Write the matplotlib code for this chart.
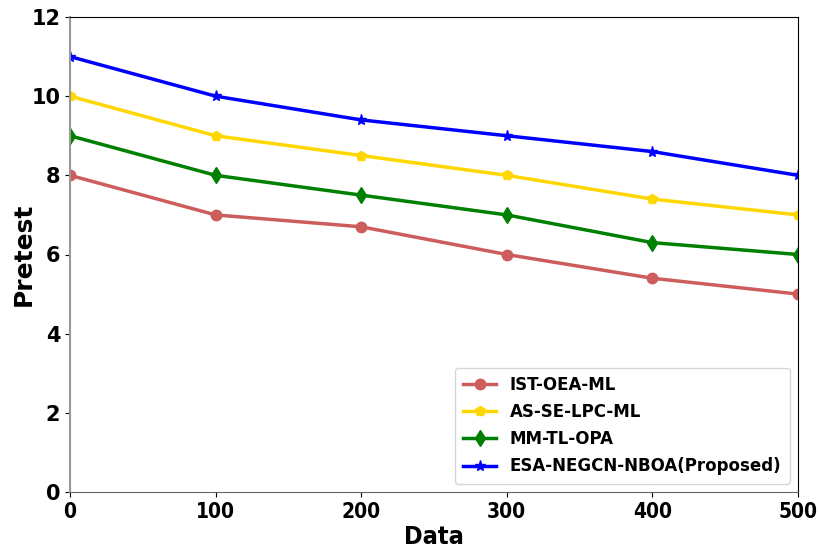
import matplotlib
matplotlib.use("Agg")
import matplotlib.pyplot as plt

data_sizes = [0, 100, 200, 300, 400, 500]
ist_oea_ml = [8, 7, 6.7, 6, 5.4, 5]
as_se_lpc_ml = [10, 9, 8.5, 8, 7.4, 7]
mm_tl_opa = [9, 8, 7.5, 7, 6.3, 6]
esa_negcn_nboa = [11, 10, 9.4, 9, 8.6, 8]

series = [
    ("IST-OEA-ML", ist_oea_ml, "indianred", "o", 7.5),
    ("AS-SE-LPC-ML", as_se_lpc_ml, "gold", "p", 7.5),
    ("MM-TL-OPA", mm_tl_opa, "green", "d", 8.5),
    ("ESA-NEGCN-NBOA(Proposed)", esa_negcn_nboa, "blue", "*", 8),
]

fig = plt.figure(figsize=(8.18, 5.51), dpi=100)
ax = fig.add_axes([70 / 818, 1 - 492 / 551, 728 / 818, 475 / 551])

for label, values, color, marker, msize in series:
    ax.plot(data_sizes, values, color=color, marker=marker, markersize=msize,
            linewidth=2.5, label=label)

ax.set_xlim(0, 500)
ax.set_ylim(0, 12)
ax.set_xticks(data_sizes)
ax.set_yticks([0, 2, 4, 6, 8, 10, 12])
for lbl in ax.get_xticklabels():
    lbl.set_fontweight("bold")
    lbl.set_fontsize(15)
    lbl.set_fontstretch("condensed")
for lbl in ax.get_yticklabels():
    lbl.set_fontweight("bold")
    lbl.set_fontsize(15)
ax.set_xlabel("Data", fontsize=18, fontweight="bold", fontstretch="condensed",
              labelpad=2)
ax.set_ylabel("Pretest", fontsize=18, fontweight="bold", labelpad=-3)
ax.spines["left"].set_color("#999999")
ax.spines["left"].set_linewidth(1.5)
ax.spines["bottom"].set_color("#666666")

ax.legend(loc="lower right", prop={"weight": "bold", "size": 12},
          handlelength=2.0, borderpad=0.5, labelspacing=0.55)

fig.savefig("out.png", dpi=100)
